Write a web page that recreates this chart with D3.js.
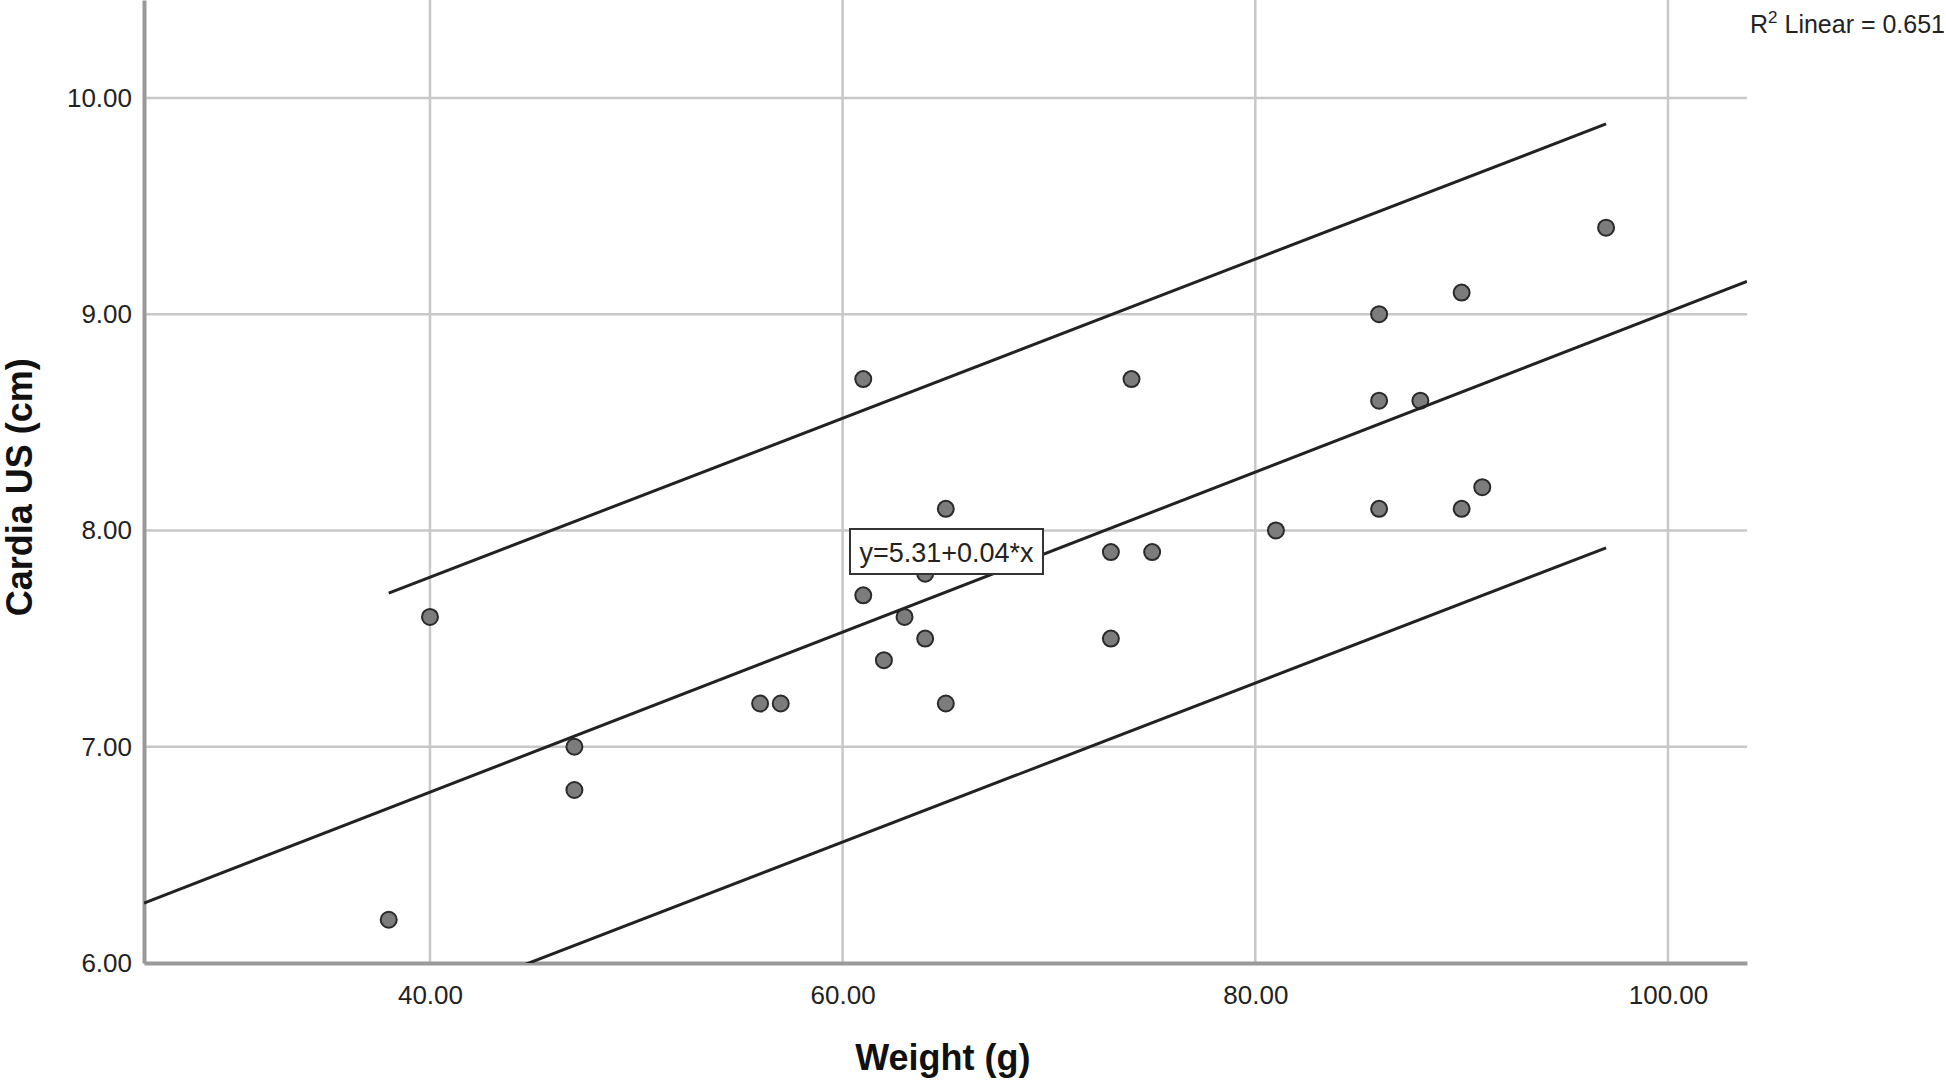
<!DOCTYPE html>
<html>
<head>
<meta charset="utf-8">
<script src="https://cdn.jsdelivr.net/npm/d3@7"></script>
<style>
  body { margin: 0; background: #fff; }
  svg { display: block; font-family: "Liberation Sans", Arial, sans-serif; }
</style>
</head>
<body>
<div id="main-diagram"></div>
<script>
// weight (g) and cardia US (cm)
const weight = [38, 40, 47, 47, 56, 57, 61, 61, 62, 63, 64, 64, 65, 65, 73, 73, 74, 75, 81, 86, 86, 86, 88, 90, 90, 91, 97]
const cardia = [6.2, 7.6, 7.0, 6.8, 7.2, 7.2, 8.7, 7.7, 7.4, 7.6, 7.8, 7.5, 8.1, 7.2, 7.9, 7.5, 8.7, 7.9, 8.0, 9.0, 8.6, 8.1, 8.6, 9.1, 8.1, 8.2, 9.4]

// fit line and prediction band, as drawn in the picture
const fitIntercept = 5.31
const fitSlope = 0.037
const bandX = [38, 97]
const bandUpper = [7.71, 9.88]
const bandLower = [5.75, 7.92]

const xTicks = [40, 60, 80, 100]
const yTicks = [6, 7, 8, 9, 10]
const equationLabel = 'y=5.31+0.04*x'
const r2Label = '0.651'

const width = 1946
const height = 1083
const margin = { top: 0, right: 199, bottom: 120, left: 144 }

const svg = d3.select('#main-diagram')
    .append('svg')
    .attr('width', width)
    .attr('height', height)

const x = d3.scaleLinear().domain([26.14, 103.83]).range([margin.left, width - margin.right])
const y = d3.scaleLinear().domain([6, 10.453]).range([height - margin.bottom, margin.top])

const x0 = margin.left, x1 = width - margin.right
const y0 = height - margin.bottom, y1 = margin.top

svg.append('clipPath').attr('id', 'plot-clip')
    .append('rect')
    .attr('x', x0).attr('y', y1)
    .attr('width', x1 - x0).attr('height', y0 - y1)

// grid lines
svg.append('g')
    .selectAll('line')
    .data(xTicks)
    .enter()
    .append('line')
    .attr('x1', d => x(d)).attr('x2', d => x(d))
    .attr('y1', y1).attr('y2', y0)
    .attr('stroke', '#c8c8c8')
    .attr('stroke-width', 2.5)

svg.append('g')
    .selectAll('line')
    .data(yTicks.filter(d => d > 6))
    .enter()
    .append('line')
    .attr('x1', x0).attr('x2', x1)
    .attr('y1', d => y(d)).attr('y2', d => y(d))
    .attr('stroke', '#c8c8c8')
    .attr('stroke-width', 2.5)

// axes
const xAxis = svg.append('g')
    .attr('transform', `translate(0, ${y0})`)
    .call(d3.axisBottom(x).tickValues(xTicks).tickFormat(d3.format('.2f')).tickSize(0).tickPadding(23))
xAxis.select('.domain').attr('stroke', '#999').attr('stroke-width', 4)
xAxis.selectAll('text')
    .attr('font-size', 26)
    .attr('fill', '#222')
    .attr('font-family', '"Liberation Sans", Arial, sans-serif')

const yAxis = svg.append('g')
    .attr('transform', `translate(${x0}, 0)`)
    .call(d3.axisLeft(y).tickValues(yTicks).tickFormat(d3.format('.2f')).tickSize(0).tickPadding(12))
yAxis.select('.domain').attr('stroke', '#999').attr('stroke-width', 4)
yAxis.selectAll('text')
    .attr('font-size', 26)
    .attr('fill', '#222')
    .attr('font-family', '"Liberation Sans", Arial, sans-serif')

// axis titles
svg.append('text')
    .attr('x', x(64.86))
    .attr('y', 1070)
    .attr('text-anchor', 'middle')
    .attr('font-size', 36)
    .attr('font-weight', 'bold')
    .attr('fill', '#111')
    .text('Weight (g)')

svg.append('text')
    .attr('transform', `translate(32, ${y(8.2)}) rotate(-90)`)
    .attr('text-anchor', 'middle')
    .attr('font-size', 36)
    .attr('font-weight', 'bold')
    .attr('fill', '#111')
    .text('Cardia US (cm)')

// points
const points = weight.map((w, i) => ({ x: w, y: cardia[i] }))
svg.append('g')
    .selectAll('circle')
    .data(points)
    .enter()
    .append('circle')
    .attr('cx', d => x(d.x))
    .attr('cy', d => y(d.y))
    .attr('r', 8)
    .attr('fill', '#7c7c7c')
    .attr('stroke', '#2a2a2a')
    .attr('stroke-width', 2)

// fit line and band
const line = d3.line().x(d => x(d[0])).y(d => y(d[1]))
const fitDomain = x.domain()
const lines = [
    fitDomain.map(v => [v, fitIntercept + fitSlope * v]),
    bandX.map((v, i) => [v, bandUpper[i]]),
    bandX.map((v, i) => [v, bandLower[i]])
]
svg.append('g')
    .attr('clip-path', 'url(#plot-clip)')
    .selectAll('path')
    .data(lines)
    .enter()
    .append('path')
    .attr('d', line)
    .attr('fill', 'none')
    .attr('stroke', '#222')
    .attr('stroke-width', 3)

// equation label
const eq = svg.append('g').attr('transform', 'translate(850, 529)')
eq.append('rect')
    .attr('width', 193).attr('height', 45)
    .attr('fill', '#fff')
    .attr('stroke', '#333')
    .attr('stroke-width', 2)
eq.append('text')
    .attr('x', 96.5).attr('y', 33)
    .attr('text-anchor', 'middle')
    .attr('font-size', 27)
    .attr('fill', '#222')
    .text(equationLabel)

// R squared
const r2 = svg.append('text')
    .attr('x', 1750)
    .attr('y', 33)
    .attr('font-size', 25)
    .attr('fill', '#222')
r2.append('tspan').text('R')
r2.append('tspan').attr('font-size', 17).attr('dy', -10).text('2')
r2.append('tspan').attr('dy', 10).text(' Linear = ' + r2Label)
</script>
</body>
</html>
